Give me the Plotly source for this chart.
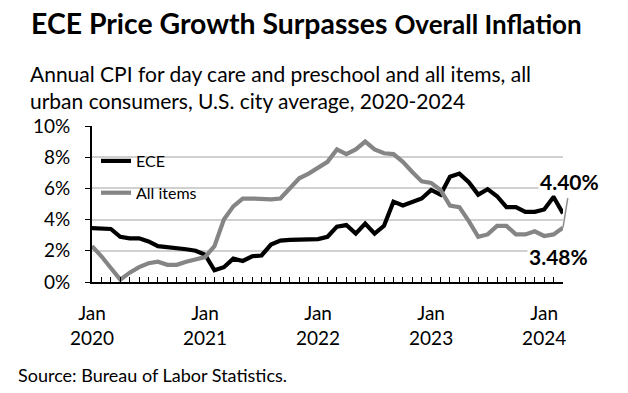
import plotly.graph_objects as go

# ---- data ----
months = [f"{m} {y}" for y in range(2020, 2025) for m in
          ["Jan", "Feb", "Mar", "Apr", "May", "Jun", "Jul", "Aug", "Sep", "Oct", "Nov", "Dec"]][:51]

ece = [3.45, 3.45, 3.40, 2.90, 2.80, 2.80, 2.60, 2.30, 2.25, 2.20, 2.10, 2.00,
       1.75, 0.75, 0.95, 1.50, 1.35, 1.65, 1.70, 2.40, 2.65, 2.70, 2.70, 2.70,
       2.75, 2.90, 3.55, 3.65, 3.10, 3.75, 3.10, 3.60, 5.15, 4.90, 5.10, 5.35,
       5.90, 5.60, 6.75, 6.95, 6.40, 5.60, 5.95, 5.50, 4.80, 4.80, 4.50, 4.50,
       4.65, 5.45, 4.40]

all_items = [2.30, 1.65, 0.90, 0.15, 0.60, 0.95, 1.20, 1.30, 1.10, 1.10, 1.30, 1.45,
             1.60, 2.30, 4.00, 4.85, 5.35, 5.35, 5.30, 5.30, 5.35, 6.00, 6.65, 6.95,
             7.30, 7.70, 8.50, 8.20, 8.50, 9.00, 8.50, 8.25, 8.20, 7.70, 7.05, 6.45,
             6.35, 5.90, 4.90, 4.80, 3.90, 2.90, 3.05, 3.60, 3.60, 3.05, 3.05, 3.25,
             2.95, 3.05, 3.48]

tick_labels = ["Jan<br>2020" if i == 0 else "" for i in range(51)]
for k, yr in zip([12, 24, 36, 48], ["2021", "2022", "2023", "2024"]):
    tick_labels[k] = "Jan<br>" + yr

y_ticks = [0, 2, 4, 6, 8, 10]
y_tick_text = [f"{v}%" for v in y_ticks]

ece_label = "4.40%"
all_label = "3.48%"

# ---- layout geometry (pixels) ----
W, H = 628, 393
L, R, T, B = 92, 65, 126, 111
PW, PH = W - L - R, H - T - B


def px(x):
    return (x - L) / PW


def py(y):
    return (H - B - y) / PH


FONT = "Lato"
idx = list(range(len(months)))

fig = go.Figure()
fig.add_trace(go.Scatter(x=idx, y=ece, mode="lines", name="ECE", legendgroup="ece",
                         line=dict(color="#000000", width=4.2), hovertext=months))
fig.add_trace(go.Scatter(x=idx, y=all_items, mode="lines", name="All items", legendgroup="all",
                         line=dict(color="#858585", width=4.2), hovertext=months))

fig.update_layout(
    width=W, height=H,
    margin=dict(l=L, r=R, t=T, b=B, pad=0),
    paper_bgcolor="white", plot_bgcolor="white",
    font=dict(family=FONT, color="#000000"),
    showlegend=True,
    legend=dict(x=px(96), y=py(177), xanchor="left", yanchor="middle",
                bgcolor="rgba(0,0,0,0)", font=dict(size=16, family=FONT),
                itemwidth=30, tracegroupgap=8),
    xaxis=dict(range=[0, 50], tickvals=idx, ticktext=tick_labels,
               ticks="inside", ticklen=5, tickwidth=1.3, tickcolor="#000",
               showline=True, linecolor="#000", linewidth=2,
               showgrid=False, zeroline=False, tickangle=0,
               tickfont=dict(size=19, family=FONT), ticklabelstandoff=13),
    yaxis=dict(range=[0, 10], tickvals=y_ticks, ticktext=y_tick_text,
               ticks="outside", ticklen=5, tickwidth=1.3, tickcolor="#000",
               showline=True, linecolor="#000", linewidth=2,
               showgrid=True, gridcolor="#d0d0d0", gridwidth=1.5,
               zeroline=False, tickfont=dict(size=19, family=FONT),
               ticklabelstandoff=11),
)

ann = []
ann.append(dict(xref="paper", yref="paper", x=px(29), y=py(23), xanchor="left", yanchor="middle",
                text="<b>ECE Price Growth Surpasses <span style='font-size:26px'>Overall Inflation</span></b>",
                showarrow=False, font=dict(size=28.4, family=FONT, color="#000")))
ann.append(dict(xref="paper", yref="paper", x=px(28), y=py(87), xanchor="left", yanchor="middle",
                align="left",
                text="Annual CPI for day care and preschool and all items, all<br>urban consumers, U.S. city average, 2020-2024",
                showarrow=False, font=dict(size=21, family=FONT, color="#000")))
ann.append(dict(xref="paper", yref="paper", x=px(16), y=py(375), xanchor="left", yanchor="middle",
                text="Source: Bureau of Labor Statistics.", showarrow=False,
                font=dict(size=18, family=FONT, color="#000")))
# data labels
ann.append(dict(x=idx[-1], y=ece[-1], xref="x", yref="y", text=f"<b>{ece_label}</b>",
                showarrow=False, xanchor="center", yanchor="middle", xshift=6, yshift=32,
                bgcolor="white", font=dict(size=21, family=FONT, color="#000")))
ann.append(dict(x=idx[-1], y=all_items[-1], xref="x", yref="y", text=f"<b>{all_label}</b>",
                showarrow=False, xanchor="center", yanchor="middle", xshift=-5, yshift=-29,
                bgcolor="white", font=dict(size=21, family=FONT, color="#000")))
# leader line
ann.append(dict(x=idx[-1], y=all_items[-1], xref="x", yref="y", text="",
                showarrow=True, arrowhead=0, arrowwidth=1.5, arrowcolor="#8c8c8c",
                ax=5, ay=-31, standoff=0))
fig.update_layout(annotations=ann)

fig.write_html("out.html", config={"displayModeBar": False},
               post_script="document.documentElement.style.margin='0';document.body.style.margin='0';")
